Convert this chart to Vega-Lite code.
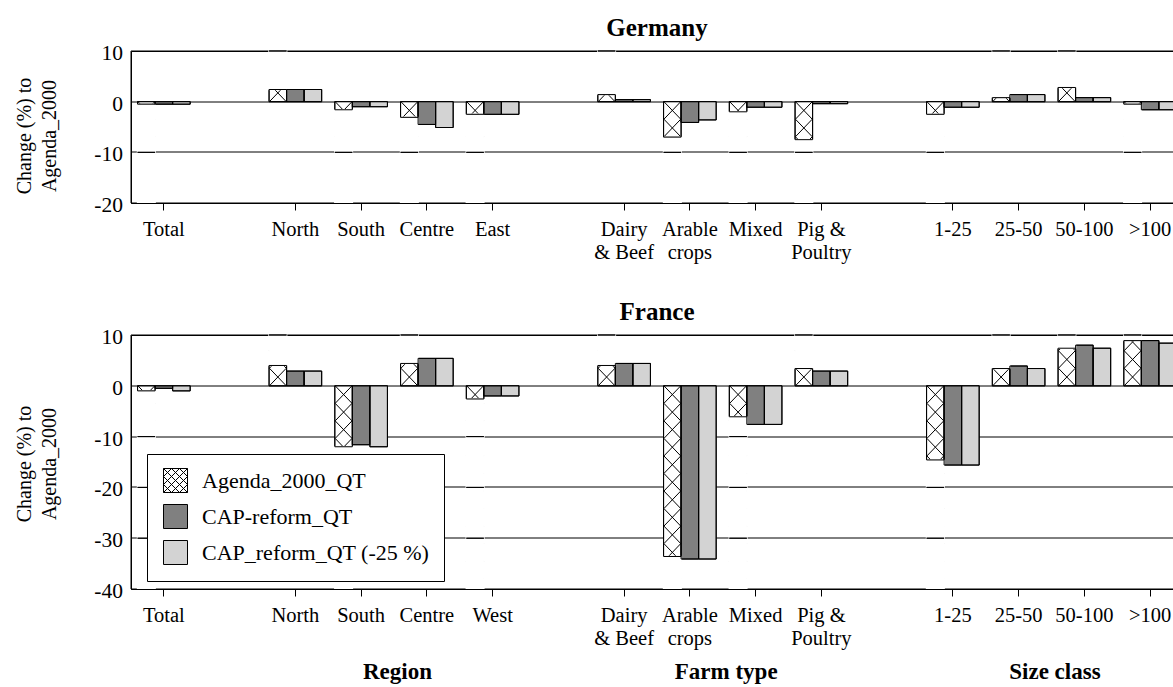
{
  "$schema": "https://vega.github.io/schema/vega-lite/v6.json",
  "autosize": {"type": "pad"},
  "padding": {"left": 14, "top": 15, "right": -9, "bottom": 0},
  "spacing": 36,
  "config": {
    "font": "Liberation Serif",
    "view": {"stroke": "black", "strokeWidth": 1},
    "axis": {"labelFont": "Liberation Serif", "titleFont": "Liberation Serif"},
    "legend": {"labelFont": "Liberation Serif"},
    "title": {"font": "Liberation Serif"},
    "text": {"font": "Liberation Serif"}
  },
  "resolve": {"scale": {"fill": "independent"}, "legend": {"fill": "independent"}},
  "datasets": {
    "de": [
      {"cat": "Total", "series": "Agenda_2000_QT", "value": -0.5},
      {"cat": "Total", "series": "CAP-reform_QT", "value": -0.5},
      {"cat": "Total", "series": "CAP_reform_QT (-25 %)", "value": -0.5},
      {"cat": "North", "series": "Agenda_2000_QT", "value": 2.4},
      {"cat": "North", "series": "CAP-reform_QT", "value": 2.4},
      {"cat": "North", "series": "CAP_reform_QT (-25 %)", "value": 2.4},
      {"cat": "South", "series": "Agenda_2000_QT", "value": -1.6},
      {"cat": "South", "series": "CAP-reform_QT", "value": -1.0},
      {"cat": "South", "series": "CAP_reform_QT (-25 %)", "value": -1.0},
      {"cat": "Centre", "series": "Agenda_2000_QT", "value": -3.1},
      {"cat": "Centre", "series": "CAP-reform_QT", "value": -4.5},
      {"cat": "Centre", "series": "CAP_reform_QT (-25 %)", "value": -5.1},
      {"cat": "East", "series": "Agenda_2000_QT", "value": -2.5},
      {"cat": "East", "series": "CAP-reform_QT", "value": -2.5},
      {"cat": "East", "series": "CAP_reform_QT (-25 %)", "value": -2.5},
      {"cat": "Dairy & Beef", "series": "Agenda_2000_QT", "value": 1.4},
      {"cat": "Dairy & Beef", "series": "CAP-reform_QT", "value": 0.4},
      {"cat": "Dairy & Beef", "series": "CAP_reform_QT (-25 %)", "value": 0.4},
      {"cat": "Arable crops", "series": "Agenda_2000_QT", "value": -7.0},
      {"cat": "Arable crops", "series": "CAP-reform_QT", "value": -4.1},
      {"cat": "Arable crops", "series": "CAP_reform_QT (-25 %)", "value": -3.6},
      {"cat": "Mixed", "series": "Agenda_2000_QT", "value": -2.0},
      {"cat": "Mixed", "series": "CAP-reform_QT", "value": -1.1},
      {"cat": "Mixed", "series": "CAP_reform_QT (-25 %)", "value": -1.1},
      {"cat": "Pig & Poultry", "series": "Agenda_2000_QT", "value": -7.5},
      {"cat": "Pig & Poultry", "series": "CAP-reform_QT", "value": -0.4},
      {"cat": "Pig & Poultry", "series": "CAP_reform_QT (-25 %)", "value": -0.4},
      {"cat": "1-25", "series": "Agenda_2000_QT", "value": -2.5},
      {"cat": "1-25", "series": "CAP-reform_QT", "value": -1.1},
      {"cat": "1-25", "series": "CAP_reform_QT (-25 %)", "value": -1.1},
      {"cat": "25-50", "series": "Agenda_2000_QT", "value": 0.8},
      {"cat": "25-50", "series": "CAP-reform_QT", "value": 1.4},
      {"cat": "25-50", "series": "CAP_reform_QT (-25 %)", "value": 1.4},
      {"cat": "50-100", "series": "Agenda_2000_QT", "value": 2.8},
      {"cat": "50-100", "series": "CAP-reform_QT", "value": 0.8},
      {"cat": "50-100", "series": "CAP_reform_QT (-25 %)", "value": 0.8},
      {"cat": ">100", "series": "Agenda_2000_QT", "value": -0.5},
      {"cat": ">100", "series": "CAP-reform_QT", "value": -1.6},
      {"cat": ">100", "series": "CAP_reform_QT (-25 %)", "value": -1.6}
    ],
    "fr": [
      {"cat": "Total", "series": "Agenda_2000_QT", "value": -1.0},
      {"cat": "Total", "series": "CAP-reform_QT", "value": -0.5},
      {"cat": "Total", "series": "CAP_reform_QT (-25 %)", "value": -1.0},
      {"cat": "North", "series": "Agenda_2000_QT", "value": 4.0},
      {"cat": "North", "series": "CAP-reform_QT", "value": 2.9},
      {"cat": "North", "series": "CAP_reform_QT (-25 %)", "value": 2.9},
      {"cat": "South", "series": "Agenda_2000_QT", "value": -12.0},
      {"cat": "South", "series": "CAP-reform_QT", "value": -11.6},
      {"cat": "South", "series": "CAP_reform_QT (-25 %)", "value": -12.0},
      {"cat": "Centre", "series": "Agenda_2000_QT", "value": 4.4},
      {"cat": "Centre", "series": "CAP-reform_QT", "value": 5.4},
      {"cat": "Centre", "series": "CAP_reform_QT (-25 %)", "value": 5.4},
      {"cat": "West", "series": "Agenda_2000_QT", "value": -2.6},
      {"cat": "West", "series": "CAP-reform_QT", "value": -2.0},
      {"cat": "West", "series": "CAP_reform_QT (-25 %)", "value": -2.0},
      {"cat": "Dairy & Beef", "series": "Agenda_2000_QT", "value": 4.0},
      {"cat": "Dairy & Beef", "series": "CAP-reform_QT", "value": 4.4},
      {"cat": "Dairy & Beef", "series": "CAP_reform_QT (-25 %)", "value": 4.4},
      {"cat": "Arable crops", "series": "Agenda_2000_QT", "value": -33.6},
      {"cat": "Arable crops", "series": "CAP-reform_QT", "value": -34.1},
      {"cat": "Arable crops", "series": "CAP_reform_QT (-25 %)", "value": -34.1},
      {"cat": "Mixed", "series": "Agenda_2000_QT", "value": -6.1},
      {"cat": "Mixed", "series": "CAP-reform_QT", "value": -7.6},
      {"cat": "Mixed", "series": "CAP_reform_QT (-25 %)", "value": -7.6},
      {"cat": "Pig & Poultry", "series": "Agenda_2000_QT", "value": 3.4},
      {"cat": "Pig & Poultry", "series": "CAP-reform_QT", "value": 2.9},
      {"cat": "Pig & Poultry", "series": "CAP_reform_QT (-25 %)", "value": 2.9},
      {"cat": "1-25", "series": "Agenda_2000_QT", "value": -14.6},
      {"cat": "1-25", "series": "CAP-reform_QT", "value": -15.6},
      {"cat": "1-25", "series": "CAP_reform_QT (-25 %)", "value": -15.6},
      {"cat": "25-50", "series": "Agenda_2000_QT", "value": 3.4},
      {"cat": "25-50", "series": "CAP-reform_QT", "value": 3.9},
      {"cat": "25-50", "series": "CAP_reform_QT (-25 %)", "value": 3.4},
      {"cat": "50-100", "series": "Agenda_2000_QT", "value": 7.4},
      {"cat": "50-100", "series": "CAP-reform_QT", "value": 8.0},
      {"cat": "50-100", "series": "CAP_reform_QT (-25 %)", "value": 7.4},
      {"cat": ">100", "series": "Agenda_2000_QT", "value": 8.9},
      {"cat": ">100", "series": "CAP-reform_QT", "value": 8.9},
      {"cat": ">100", "series": "CAP_reform_QT (-25 %)", "value": 8.4}
    ],
    "groups": [
      {"cat": "South", "label": "Region"},
      {"cat": "Arable crops", "label": "Farm type"},
      {"cat": "25-50", "label": "Size class"}
    ]
  },
  "vconcat": [
    {
      "width": 1052,
      "height": 152,
      "title": {"text": "Germany", "fontSize": 25, "fontWeight": "bold", "frame": "group", "anchor": "middle", "baseline": "alphabetic", "offset": -17.5, "color": "black"},
      "data": {"name": "de"},
      "encoding": {
        "x": {"field": "cat", "type": "nominal", "title": null,
          "scale": {"domain": ["Total", " ", "North", "South", "Centre", "East", "  ", "Dairy & Beef", "Arable crops", "Mixed", "Pig & Poultry", "   ", "1-25", "25-50", "50-100", ">100"], "paddingInner": 0.2, "paddingOuter": 0.1},
          "axis": {"values": ["Total", "North", "South", "Centre", "East", "Dairy & Beef", "Arable crops", "Mixed", "Pig & Poultry", "1-25", "25-50", "50-100", ">100"],
            "title": null, "labelAngle": 0, "labelFontSize": 20.5, "labelColor": "black", "labelLineHeight": 23, "labelPadding": 9, "labelOverlap": false,
            "tickColor": "black", "tickSize": 7, "domainColor": "black", "zindex": 1,
            "labelExpr": "datum.value === 'Dairy & Beef' ? ['Dairy', '& Beef'] : datum.value === 'Arable crops' ? ['Arable', 'crops'] : datum.value === 'Pig & Poultry' ? ['Pig &', 'Poultry'] : datum.label"}},
        "xOffset": {"field": "series", "type": "nominal", "scale": {"domain": ["Agenda_2000_QT", "CAP-reform_QT", "CAP_reform_QT (-25 %)"], "paddingInner": 0, "paddingOuter": 0}},
        "y": {"field": "value", "type": "quantitative",
          "scale": {"domain": [-20, 10], "nice": false},
          "axis": {"values": [-20, -10, 0, 10], "labelExpr": "'' + datum.value", "grid": true, "gridColor": "black", "gridOpacity": 1, "gridWidth": 1, "ticks": false, "tickSize": 0, "translate": 0,
            "domainColor": "black", "labelFontSize": 21.5, "labelColor": "black", "labelPadding": 8, "labelOffset": 3,
            "title": ["Change (%) to", "Agenda_2000"], "titleFontSize": 20, "titleFontWeight": "normal", "titleColor": "black",
            "titleAngle": -90, "titleAlign": "center", "titleBaseline": "middle", "titleX": -106, "titleY": 85, "titleLineHeight": 25, "zindex": 0}}
      },
      "layer": [
        {"mark": {"type": "bar", "stroke": "black", "strokeWidth": 1},
         "encoding": {"fill": {"field": "series", "type": "nominal", "scale": {"domain": ["Agenda_2000_QT", "CAP-reform_QT", "CAP_reform_QT (-25 %)"], "range": ["white", "#808080", "#d3d3d3"]}, "legend": null}}},
        {"transform": [{"filter": "datum.series === 'Agenda_2000_QT'"}],
         "mark": {"type": "point", "filled": false, "stroke": "black", "strokeWidth": 1, "opacity": 1, "size": 123000, "clip": true},
         "encoding": {"y": {"datum": 0},
           "shape": {"condition": {"test": "datum.value >= 0", "value": "M-0.048,0l0.096,-0.1m0,0.1l-0.096,-0.1"},
             "value": "M-0.048,0l0.096,0.1m0,-0.1l-0.096,0.1l0.096,0.1m0,-0.1l-0.096,0.1l0.096,0.1m0,-0.1l-0.096,0.1"}}},
        {"transform": [{"filter": "datum.series === 'Agenda_2000_QT' && datum.value < 0"}],
         "mark": {"type": "bar", "fill": "white", "stroke": "white", "strokeWidth": 1.5},
         "encoding": {"y2": {"datum": -20}}},
        {"transform": [{"filter": "datum.series === 'Agenda_2000_QT' && datum.value > 0"}],
         "mark": {"type": "bar", "fill": "white", "stroke": "white", "strokeWidth": 1.5},
         "encoding": {"y2": {"datum": 10}}},
        {"transform": [{"filter": "datum.series === 'Agenda_2000_QT' && datum.value > 0"}],
         "mark": {"type": "bar", "fill": "transparent", "stroke": "black", "strokeWidth": 1},
         "encoding": {"y": {"datum": 10}, "y2": {"datum": 10}}},
        {"transform": [{"filter": "datum.series === 'Agenda_2000_QT' && datum.value < 0 && datum.value > -10"}],
         "mark": {"type": "bar", "fill": "transparent", "stroke": "black", "strokeWidth": 1},
         "encoding": {"y": {"datum": -10}, "y2": {"datum": -10}}},
        {"mark": {"type": "bar", "fill": "transparent", "stroke": "black", "strokeWidth": 1}}
      ]
    },
    {
      "width": 1052,
      "height": 254,
      "title": {"text": "France", "fontSize": 25, "fontWeight": "bold", "frame": "group", "anchor": "middle", "baseline": "alphabetic", "offset": -18, "color": "black"},
      "layer": [
        {
          "data": {"name": "fr"},
          "encoding": {
            "x": {"field": "cat", "type": "nominal", "title": null,
              "scale": {"domain": ["Total", " ", "North", "South", "Centre", "West", "  ", "Dairy & Beef", "Arable crops", "Mixed", "Pig & Poultry", "   ", "1-25", "25-50", "50-100", ">100"], "paddingInner": 0.2, "paddingOuter": 0.1},
              "axis": {"values": ["Total", "North", "South", "Centre", "West", "Dairy & Beef", "Arable crops", "Mixed", "Pig & Poultry", "1-25", "25-50", "50-100", ">100"],
                "title": null, "labelAngle": 0, "labelFontSize": 20.5, "labelColor": "black", "labelLineHeight": 23, "labelPadding": 9, "labelOverlap": false,
                "tickColor": "black", "tickSize": 7, "domainColor": "black", "zindex": 1,
                "labelExpr": "datum.value === 'Dairy & Beef' ? ['Dairy', '& Beef'] : datum.value === 'Arable crops' ? ['Arable', 'crops'] : datum.value === 'Pig & Poultry' ? ['Pig &', 'Poultry'] : datum.label"}},
            "xOffset": {"field": "series", "type": "nominal", "scale": {"domain": ["Agenda_2000_QT", "CAP-reform_QT", "CAP_reform_QT (-25 %)"], "paddingInner": 0, "paddingOuter": 0}},
            "y": {"field": "value", "type": "quantitative",
              "scale": {"domain": [-40, 10], "nice": false},
              "axis": {"values": [-40, -30, -20, -10, 0, 10], "labelExpr": "'' + datum.value", "grid": true, "gridColor": "black", "gridOpacity": 1, "gridWidth": 1, "ticks": false, "tickSize": 0, "translate": 0,
                "domainColor": "black", "labelFontSize": 21.5, "labelColor": "black", "labelPadding": 8, "labelOffset": 3,
                "title": ["Change (%) to", "Agenda_2000"], "titleFontSize": 20, "titleFontWeight": "normal", "titleColor": "black",
                "titleAngle": -90, "titleAlign": "center", "titleBaseline": "middle", "titleX": -106, "titleY": 129, "titleLineHeight": 25, "zindex": 0}}
          },
          "layer": [
            {"mark": {"type": "bar", "stroke": "black", "strokeWidth": 1},
             "encoding": {"fill": {"field": "series", "type": "nominal", "scale": {"domain": ["Agenda_2000_QT", "CAP-reform_QT", "CAP_reform_QT (-25 %)"], "range": ["white", "#808080", "#d3d3d3"]},
               "legend": {"orient": "none", "legendX": 16, "legendY": 119, "title": null, "strokeColor": "black", "fillColor": "white", "padding": 14,
                 "symbolSize": 576, "symbolType": "square", "symbolStrokeColor": "black", "symbolStrokeWidth": 1, "symbolOffset": 2,
                 "labelFontSize": 22, "labelColor": "black", "labelOffset": 14, "labelLimit": 400, "rowPadding": 7,
                 "encode": {"symbols": {"update": {
                   "shape": {"signal": "datum.value === 'Agenda_2000_QT' ? 'M-1,-1H1V1H-1Z M-1,-1L1,1 M-0.333,-1L1,0.333 M0.333,-1L1,-0.333 M-1,-0.333L0.333,1 M-1,0.333L-0.333,1 M-1,1L1,-1 M-0.333,1L1,-0.333 M0.333,1L1,0.333 M-1,0.333L0.333,-1 M-1,-0.333L-0.333,-1' : 'square'"},
                   "stroke": {"value": "black"}, "strokeWidth": {"value": 1}}}}}}}},
            {"transform": [{"filter": "datum.series === 'Agenda_2000_QT'"}],
             "mark": {"type": "point", "filled": false, "stroke": "black", "strokeWidth": 1, "opacity": 1, "size": 123000, "clip": true},
             "encoding": {"y": {"datum": 0},
               "shape": {"condition": {"test": "datum.value >= 0", "value": "M-0.048,0l0.096,-0.1m0,0.1l-0.096,-0.1l0.096,-0.1m0,0.1l-0.096,-0.1l0.096,-0.1m0,0.1l-0.096,-0.1"},
                 "value": "M-0.048,0l0.096,0.1m0,-0.1l-0.096,0.1l0.096,0.1m0,-0.1l-0.096,0.1l0.096,0.1m0,-0.1l-0.096,0.1l0.096,0.1m0,-0.1l-0.096,0.1l0.096,0.1m0,-0.1l-0.096,0.1l0.096,0.1m0,-0.1l-0.096,0.1l0.096,0.1m0,-0.1l-0.096,0.1l0.096,0.1m0,-0.1l-0.096,0.1l0.096,0.1m0,-0.1l-0.096,0.1l0.096,0.1m0,-0.1l-0.096,0.1l0.096,0.1m0,-0.1l-0.096,0.1"}}},
            {"transform": [{"filter": "datum.series === 'Agenda_2000_QT' && datum.value < 0"}],
             "mark": {"type": "bar", "fill": "white", "stroke": "white", "strokeWidth": 1.5},
             "encoding": {"y2": {"datum": -40}}},
            {"transform": [{"filter": "datum.series === 'Agenda_2000_QT' && datum.value > 0"}],
             "mark": {"type": "bar", "fill": "white", "stroke": "white", "strokeWidth": 1.5},
             "encoding": {"y2": {"datum": 10}}},
            {"transform": [{"filter": "datum.series === 'Agenda_2000_QT' && datum.value > 0"}],
             "mark": {"type": "bar", "fill": "transparent", "stroke": "black", "strokeWidth": 1},
             "encoding": {"y": {"datum": 10}, "y2": {"datum": 10}}},
            {"transform": [{"filter": "datum.series === 'Agenda_2000_QT' && datum.value < 0 && datum.value > -10"}],
             "mark": {"type": "bar", "fill": "transparent", "stroke": "black", "strokeWidth": 1},
             "encoding": {"y": {"datum": -10}, "y2": {"datum": -10}}},
            {"transform": [{"filter": "datum.series === 'Agenda_2000_QT' && datum.value < 0 && datum.value > -20"}],
             "mark": {"type": "bar", "fill": "transparent", "stroke": "black", "strokeWidth": 1},
             "encoding": {"y": {"datum": -20}, "y2": {"datum": -20}}},
            {"transform": [{"filter": "datum.series === 'Agenda_2000_QT' && datum.value < 0 && datum.value > -30"}],
             "mark": {"type": "bar", "fill": "transparent", "stroke": "black", "strokeWidth": 1},
             "encoding": {"y": {"datum": -30}, "y2": {"datum": -30}}},
            {"mark": {"type": "bar", "fill": "transparent", "stroke": "black", "strokeWidth": 1}}
          ]
        },
        {
          "data": {"name": "groups"},
          "mark": {"type": "text", "fontSize": 23, "fontWeight": "bold", "color": "black", "align": "center", "baseline": "middle", "dx": 10, "dy": 83},
          "encoding": {
            "x": {"field": "cat", "type": "nominal", "bandPosition": 1, "title": null},
            "y": {"datum": -40},
            "text": {"field": "label"}
          }
        }
      ]
    }
  ]
}
